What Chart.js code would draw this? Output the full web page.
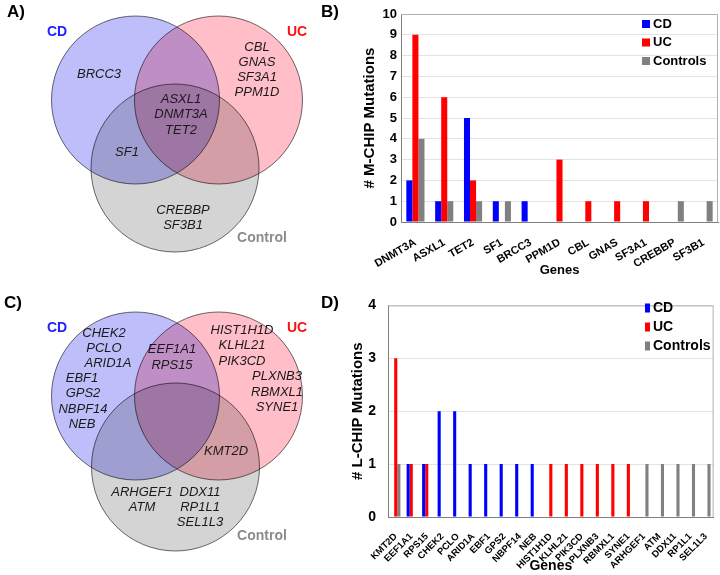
<!DOCTYPE html>
<html>
<head>
<meta charset="utf-8">
<script src="https://cdn.jsdelivr.net/npm/chart.js@4.4.1/dist/chart.umd.min.js"></script>
<style>
  body { margin: 0; background: #fff; }
  #wrap { position: relative; width: 720px; height: 575px; overflow: hidden; font-family: "Liberation Sans", Arial, sans-serif; }
  .box { position: absolute; }
  .tag { position: absolute; font-weight: bold; font-size: 17px; line-height: 17px; color: #000; z-index: 5; }
</style>
</head>
<body>
<div id="wrap">
  <div class="box" style="left:0;top:0;width:360px;height:285px"><canvas id="vennM"></canvas></div>
  <div class="box" style="left:360px;top:0;width:360px;height:285px"><canvas id="barM"></canvas></div>
  <div class="box" style="left:0;top:285px;width:360px;height:290px"><canvas id="vennL"></canvas></div>
  <div class="box" style="left:340px;top:285px;width:380px;height:290px"><canvas id="barL"></canvas></div>
  <div class="tag" style="left:7px;top:3px">A)</div>
  <div class="tag" style="left:321px;top:3px">B)</div>
  <div class="tag" style="left:4px;top:294px">C)</div>
  <div class="tag" style="left:321px;top:294px">D)</div>
</div>
<script>
// M-CHIP genes (panel B)
const mGenes = ['DNMT3A', 'ASXL1', 'TET2', 'SF1', 'BRCC3', 'PPM1D', 'CBL', 'GNAS', 'SF3A1', 'CREBBP', 'SF3B1'];
const mCD   = [2, 1, 5, 1, 1, 0, 0, 0, 0, 0, 0];
const mUC   = [9, 6, 2, 0, 0, 3, 1, 1, 1, 0, 0];
const mCtrl = [4, 1, 1, 1, 0, 0, 0, 0, 0, 1, 1];

// L-CHIP genes (panel D)
const lGenes = ['KMT2D', 'EEF1A1', 'RPS15', 'CHEK2', 'PCLO', 'ARID1A', 'EBF1', 'GPS2', 'NBPF14', 'NEB',
  'HIST1H1D', 'KLHL21', 'PIK3CD', 'PLXNB3', 'RBMXL1', 'SYNE1', 'ARHGEF1', 'ATM', 'DDX11', 'RP1L1', 'SEL1L3'];
const lCD   = [0, 1, 1, 2, 2, 1, 1, 1, 1, 1, 0, 0, 0, 0, 0, 0, 0, 0, 0, 0, 0];
const lUC   = [3, 1, 1, 0, 0, 0, 0, 0, 0, 0, 1, 1, 1, 1, 1, 1, 0, 0, 0, 0, 0];
const lCtrl = [1, 0, 0, 0, 0, 0, 0, 0, 0, 0, 0, 0, 0, 0, 0, 0, 1, 1, 1, 1, 1];

// Venn regions (panel A)
const mOnlyCD = ['BRCC3'];
const mOnlyUC = ['CBL', 'GNAS', 'SF3A1', 'PPM1D'];
const mAll = ['ASXL1', 'DNMT3A', 'TET2'];
const mCDCtrl = ['SF1'];
const mOnlyCtrl = ['CREBBP', 'SF3B1'];

// Venn regions (panel C)
const lOnlyCD = ['CHEK2', 'PCLO', 'ARID1A', 'EBF1', 'GPS2', 'NBPF14', 'NEB'];
const lCDUC = ['EEF1A1', 'RPS15'];
const lOnlyUC = ['HIST1H1D', 'KLHL21', 'PIK3CD', 'PLXNB3', 'RBMXL1', 'SYNE1'];
const lUCCtrl = ['KMT2D'];
const lOnlyCtrlA = ['ARHGEF1', 'ATM'];
const lOnlyCtrlB = ['DDX11', 'RP1L1', 'SEL1L3'];

const setNames = ['CD', 'UC', 'Control'];
const seriesNames = ['CD', 'UC', 'Controls'];

Chart.defaults.font.family = '"Liberation Sans", Arial, sans-serif';
Chart.defaults.color = '#000';
Chart.defaults.animation = false;

const BLUE = '#0000ff', RED = '#ff0000', GREY = '#808080';

// ---------- venn ----------
// circles are blended with multiply so the overlaps darken like the original
const multiply = {
  id: 'multiply',
  beforeDraw(chart) {
    const c = chart.ctx;
    c.save();
    c.fillStyle = '#fff';
    c.fillRect(0, 0, chart.width, chart.height);
    c.restore();
  },
  beforeDatasetsDraw(chart) {
    chart.ctx.save();
    chart.ctx.globalCompositeOperation = 'multiply';
  },
  afterDatasetsDraw(chart) {
    chart.ctx.restore();
  }
};

const vennText = {
  id: 'vennText',
  afterDraw(chart, args, o) {
    const ctx = chart.ctx, sx = chart.scales.x, sy = chart.scales.y;
    ctx.save();
    ctx.textAlign = 'center';
    ctx.textBaseline = 'middle';
    o.groups.forEach(g => {
      ctx.font = 'italic 13px "Liberation Sans", Arial';
      ctx.fillStyle = '#1a1a1a';
      g.genes.forEach((name, i) => {
        const x = Array.isArray(g.x) ? g.x[i] : g.x;
        ctx.fillText(name, sx.getPixelForValue(x), sy.getPixelForValue(g.y + i * g.step));
      });
    });
    o.names.forEach(n => {
      ctx.font = 'bold 14px "Liberation Sans", Arial';
      ctx.fillStyle = n.color;
      ctx.fillText(n.text, sx.getPixelForValue(n.x), sy.getPixelForValue(n.y));
    });
    ctx.restore();
  }
};

function makeVenn(id, circles, h, groups, names) {
  return new Chart(document.getElementById(id), {
    type: 'bubble',
    data: {
      datasets: [{
        data: circles,
        backgroundColor: ['rgb(255,190,200)', 'rgb(190,190,250)', 'rgb(212,212,212)'],
        borderColor: '#6e6e6e',
        borderWidth: 1,
        clip: false
      }]
    },
    options: {
      responsive: true,
      maintainAspectRatio: false,
      layout: { padding: 0, autoPadding: false },
      events: [],
      scales: {
        x: { type: 'linear', display: false, min: 0, max: 360 },
        y: { type: 'linear', display: false, min: 0, max: h, reverse: true }
      },
      plugins: {
        legend: { display: false },
        tooltip: { enabled: false },
        vennText: { groups: groups, names: names }
      }
    },
    plugins: [multiply, vennText]
  });
}

makeVenn('vennM',
  [{ x: 218.5, y: 100, r: 84 }, { x: 135.5, y: 100, r: 84 }, { x: 175, y: 168, r: 84 }], 285,
  [
    { genes: mOnlyCD, x: 99, y: 74, step: 15 },
    { genes: mOnlyUC, x: 257, y: 47, step: 15 },
    { genes: mAll, x: 181, y: 99, step: 15.5 },
    { genes: mCDCtrl, x: 127, y: 152, step: 15 },
    { genes: mOnlyCtrl, x: 183, y: 210, step: 15 }
  ],
  [
    { text: setNames[0], x: 57, y: 32, color: '#1f1fff' },
    { text: setNames[1], x: 297, y: 32, color: '#ff1010' },
    { text: setNames[2], x: 262, y: 238, color: '#8c8c8c' }
  ]);

makeVenn('vennL',
  [{ x: 218.5, y: 111, r: 84 }, { x: 135.5, y: 111, r: 84 }, { x: 175.5, y: 182, r: 84 }], 290,
  [
    { genes: lOnlyCD, x: [104, 104, 108, 82, 83, 83, 82], y: 48, step: 15.2 },
    { genes: lCDUC, x: 172, y: 64, step: 16 },
    { genes: lOnlyUC, x: [242, 242, 242, 277, 277, 277], y: 45, step: 15.5 },
    { genes: lUCCtrl, x: 226, y: 166, step: 15 },
    { genes: lOnlyCtrlA, x: 142, y: 207, step: 15 },
    { genes: lOnlyCtrlB, x: 200, y: 207, step: 15 }
  ],
  [
    { text: setNames[0], x: 57, y: 43, color: '#1f1fff' },
    { text: setNames[1], x: 297, y: 43, color: '#ff1010' },
    { text: setNames[2], x: 262, y: 251, color: '#8c8c8c' }
  ]);

// ---------- bars ----------
const boxLegend = {
  id: 'boxLegend',
  afterDraw(chart, args, o) {
    const ctx = chart.ctx;
    ctx.save();
    ctx.font = 'bold ' + o.size + 'px "Liberation Sans", Arial';
    ctx.textBaseline = 'middle';
    ctx.textAlign = 'left';
    chart.data.datasets.forEach((ds, i) => {
      const y = o.y + i * o.step;
      ctx.fillStyle = ds.backgroundColor;
      ctx.fillRect(o.x, y - o.boxH / 2, o.boxW, o.boxH);
      ctx.fillStyle = '#000';
      ctx.fillText(ds.label, o.textX, y);
    });
    ctx.restore();
  }
};

// light top/right edge of the plot box
const frame = {
  id: 'frame',
  beforeDatasetsDraw(chart) {
    const a = chart.chartArea, ctx = chart.ctx;
    ctx.save();
    ctx.strokeStyle = '#b0b0b0';
    ctx.lineWidth = 1;
    ctx.beginPath();
    ctx.moveTo(a.left, a.top + 0.5);
    ctx.lineTo(a.right - 0.5, a.top + 0.5);
    ctx.lineTo(a.right - 0.5, a.bottom);
    ctx.stroke();
    ctx.restore();
  }
};

function makeBar(id, labels, cd, uc, ctrl, c) {
  return new Chart(document.getElementById(id), {
    type: 'bar',
    data: {
      labels: labels,
      datasets: [
        { label: seriesNames[0], data: cd, backgroundColor: BLUE },
        { label: seriesNames[1], data: uc, backgroundColor: RED },
        { label: seriesNames[2], data: ctrl, backgroundColor: GREY }
      ]
    },
    options: {
      responsive: true,
      maintainAspectRatio: false,
      events: [],
      layout: { padding: { top: c.top, right: 2, left: 0, bottom: 0 } },
      datasets: { bar: { categoryPercentage: c.catPct, barPercentage: 1 } },
      scales: {
        x: {
          grid: { display: false },
          border: { color: '#7f7f7f' },
          ticks: {
            autoSkip: false, minRotation: c.rot, maxRotation: c.rot,
            padding: c.tickPad, font: { size: c.xFont, weight: 'bold' }
          },
          title: { display: true, text: 'Genes', font: { size: c.xTitle, weight: 'bold' }, padding: { top: 0, bottom: c.xTitlePad } },
          afterFit(s) { s.height = c.xHeight; }
        },
        y: {
          min: 0, max: c.yMax,
          grid: { color: '#e3e3e3', drawTicks: false },
          border: { color: '#7f7f7f' },
          ticks: { stepSize: 1, padding: c.yPad, font: { size: c.yFont, weight: 'bold' } },
          title: { display: true, text: c.yTitle, font: { size: 15, weight: 'bold' }, padding: { top: c.yTitlePad, bottom: 0 } },
          afterFit(s) { s.width = c.yWidth; }
        }
      },
      plugins: {
        legend: { display: false },
        tooltip: { enabled: false },
        boxLegend: c.legend
      }
    },
    plugins: [frame, boxLegend]
  });
}

makeBar('barM', mGenes, mCD, mUC, mCtrl, {
  top: 14, catPct: 0.63, rot: 30, tickPad: 6, xFont: 11, xTitle: 13, xTitlePad: 7, xHeight: 63,
  yMax: 10, yPad: 4, yFont: 13, yTitle: '# M-CHIP Mutations', yTitlePad: 1, yWidth: 41,
  legend: { x: 282, y: 24, step: 18.5, boxW: 8, boxH: 8, textX: 293, size: 13 }
});

makeBar('barL', lGenes, lCD, lUC, lCtrl, {
  top: 13, catPct: 0.6, rot: 45, tickPad: 6, xFont: 9.5, xTitle: 14, xTitlePad: 0, xHeight: 58,
  yMax: 4, yPad: 12, yFont: 14, yTitle: '# L-CHIP Mutations', yTitlePad: 9, yWidth: 48,
  legend: { x: 305, y: 23, step: 19, boxW: 5, boxH: 9, textX: 313, size: 14 }
});
</script>
</body>
</html>
